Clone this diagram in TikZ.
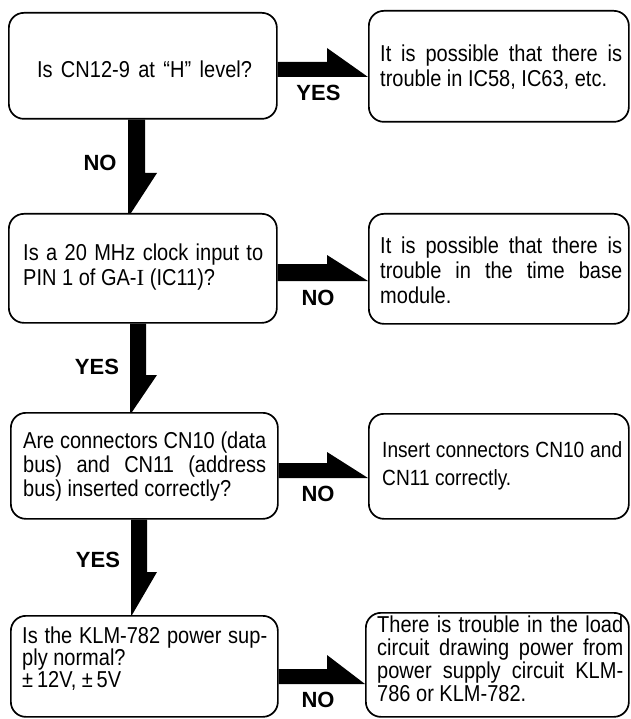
\documentclass[tikz,border=0pt]{standalone}
\usepackage{fontspec}
\setmainfont{Liberation Sans}[FakeStretch=0.87]
\newfontfamily\lblfont{Liberation Sans}
\newfontfamily\romanI{Liberation Serif}
\newcommand\jline[2]{\makebox[#1][s]{#2}}
% horizontal one-sided arrow: from, to, y top, y bottom, y of head top
\newcommand\harrow[5]{\fill[arr] (#1.east |- 0,#3) -- (327,#3) -- (327,#5) -- (#2.west |- 0,#4) -- (#1.east |- 0,#4) -- cycle;}
% vertical one-sided arrow: from, to, x left, x right, y head, x head, x tip
\newcommand\varrow[7]{\fill[arr] (#3,0 |- #1.south) -- (#4,0 |- #1.south) -- (#4,#5) -- (#6,#5) -- (#7,0 |- #2.north) -- (#3,0 |- #2.north) -- cycle;}
\begin{document}
\begin{tikzpicture}[x=1pt,y=-1pt,
  box/.style={draw=black, line width=1.7pt, rounded corners=15pt, inner sep=0pt, anchor=north west},
  txt/.style={inner sep=0pt, anchor=north west, align=left},
  lbl/.style={inner sep=0pt, font=\lblfont\bfseries\fontsize{22}{22}\selectfont},
  arr/.style={fill=black, draw=none}]
\useasboundingbox (0,0) rectangle (630,719);
\fill[white] (0,0) rectangle (630,719);

% boxes
\node[box, minimum width=268pt, minimum height=106pt] (b1) at (8,12) {};
\node[box, minimum width=260pt, minimum height=111pt] (b2) at (368,10) {};
\node[box, minimum width=268pt, minimum height=109pt] (b3) at (8,213) {};
\node[box, minimum width=260pt, minimum height=110pt] (b4) at (368,213) {};
\node[box, minimum width=267pt, minimum height=106pt] (b5) at (10,412) {};
\node[box, minimum width=260pt, minimum height=105pt] (b6) at (368,413) {};
\node[box, minimum width=267pt, minimum height=101pt] (b7) at (10,615) {};
\node[box, minimum width=263pt, minimum height=104pt] (b8) at (365,612) {};

% texts
\node[inner sep=0pt, anchor=base, font=\fontsize{23}{25}\selectfont] (t1) at (144.5,78) {\jline{215pt}{Is CN12-9 at “H” level?}};
\node[txt, font=\fontsize{23}{25}\selectfont] (t2) at (380,44.5)
  {\jline{242pt}{It is possible that there is}\\trouble in IC58, IC63, etc.};
\node[txt, font=\fontsize{23}{25}\selectfont] (t3) at (23,243.5)
  {\jline{240pt}{Is a 20 MHz clock input to}\\PIN 1 of GA-{\romanI I} (IC11)?};
\node[txt, font=\fontsize{23}{25}\selectfont] (t4) at (380,236.5)
  {\jline{242pt}{It is possible that there is}\\\jline{242pt}{trouble in the time base}\\module.};
\node[txt, font=\fontsize{23}{24}\selectfont] (t5) at (23,431.5)
  {\jline{243pt}{Are connectors CN10 (data}\\\jline{243pt}{bus) and CN11 (address}\\bus) inserted correctly?};
\node[txt, font=\fontsize{22}{28}\selectfont] (t6) at (382,441)
  {\jline{240pt}{Insert connectors CN10 and}\\CN11 correctly.};
\node[txt, font=\fontsize{23}{22}\selectfont] (t7) at (22,626.5)
  {\jline{245pt}{Is the KLM-782 power sup-}\\ply normal?\\±\,12V, ±\,5V};
\node[txt, font=\fontsize{23}{23}\selectfont] (t8) at (377,615.5)
  {\jline{246pt}{There is trouble in the load}\\\jline{246pt}{circuit drawing power from}\\\jline{246pt}{power supply circuit KLM-}\\786 or KLM-782.};

% arrows
\harrow{b1}{b2}{62}{77}{48}
\harrow{b3}{b4}{264}{281}{255}
\harrow{b5}{b6}{463}{478}{452}
\harrow{b7}{b8}{669}{684}{655}
\varrow{b1}{b3}{128}{145}{173}{157}{131}
\varrow{b3}{b5}{130}{146}{375}{157}{132}
\varrow{b5}{b7}{131}{147}{572}{157}{132}

% labels
\node[lbl] (y1) at (318.5,92.5) {YES};
\node[lbl] (n1) at (100,162.5) {NO};
\node[lbl] (n2) at (318,298) {NO};
\node[lbl] (y2) at (97,366.5) {YES};
\node[lbl] (n3) at (318,494) {NO};
\node[lbl] (y3) at (98,560) {YES};
\node[lbl] (n4) at (318,700) {NO};
\end{tikzpicture}
\end{document}
